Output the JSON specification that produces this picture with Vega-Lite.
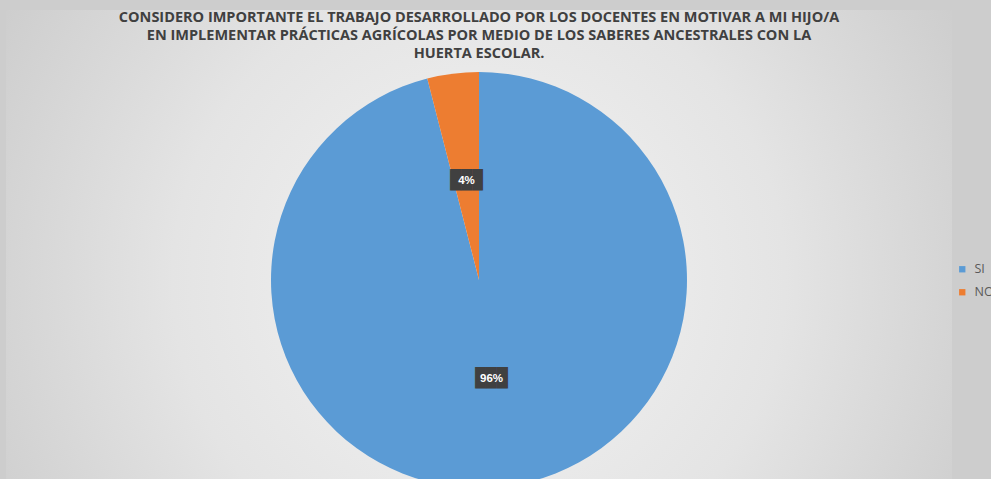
{
  "$schema": "https://vega.github.io/schema/vega-lite/v6.json",
  "width": 946,
  "height": 540,
  "autosize": {"type": "none"},
  "padding": {"left": 6, "top": 10, "right": 39, "bottom": 0},
  "background": "#cdcdcd",
  "config": {"view": {"stroke": null}},
  "title": {
    "text": [
      "CONSIDERO IMPORTANTE EL TRABAJO DESARROLLADO POR LOS DOCENTES EN MOTIVAR A MI HIJO/A",
      "EN IMPLEMENTAR PRÁCTICAS AGRÍCOLAS POR MEDIO DE LOS SABERES ANCESTRALES CON LA",
      "HUERTA ESCOLAR."
    ],
    "anchor": "middle",
    "offset": -51,
    "font": "Open Sans",
    "fontSize": 14.5,
    "fontWeight": "bold",
    "color": "#404040",
    "lineHeight": 18
  },
  "data": {
    "values": [
      {"respuesta": "SI", "porcentaje": 0.96},
      {"respuesta": "NO", "porcentaje": 0.04}
    ]
  },
  "layer": [
    {
      "data": {"values": [{}]},
      "mark": {
        "type": "rect",
        "color": {
          "gradient": "radial",
          "x1": 0.5, "y1": 0.5, "x2": 0.5, "y2": 0.5,
          "r1": 0, "r2": 0.72,
          "stops": [
            {"offset": 0, "color": "#f4f4f4"},
            {"offset": 0.45, "color": "#e4e4e4"},
            {"offset": 1, "color": "#c1c1c1"}
          ]
        }
      },
      "encoding": {}
    },
    {
      "mark": {"type": "arc", "outerRadius": 208},
      "encoding": {
        "theta": {"field": "porcentaje", "type": "quantitative", "stack": true},
        "order": {"field": "porcentaje", "sort": "descending"},
        "color": {
          "field": "respuesta",
          "type": "nominal",
          "sort": ["SI", "NO"],
          "scale": {"domain": ["SI", "NO"], "range": ["#5b9bd5", "#ed7d31"]},
          "legend": {
            "title": null,
            "orient": "none",
            "legendX": 950,
            "legendY": 253,
            "symbolType": "square",
            "symbolSize": 40,
            "symbolStrokeWidth": 0,
            "labelFontSize": 12.5,
            "labelColor": "#595959",
            "labelFont": "Open Sans",
            "labelOffset": 6,
            "rowPadding": 10
          }
        }
      }
    },
    {
      "mark": {"type": "text", "radius": 100, "font": "DejaVu Sans Mono", "fontSize": 18, "color": "#404040", "baseline": "middle"},
      "encoding": {
        "theta": {"field": "porcentaje", "type": "quantitative", "stack": true},
        "order": {"field": "porcentaje", "sort": "descending"},
        "text": {"value": "███"}
      }
    },
    {
      "mark": {"type": "text", "radius": 100, "font": "Liberation Sans", "fontSize": 11.5, "fontWeight": "bold", "color": "#ffffff", "baseline": "middle"},
      "encoding": {
        "theta": {"field": "porcentaje", "type": "quantitative", "stack": true},
        "order": {"field": "porcentaje", "sort": "descending"},
        "text": {"field": "porcentaje", "type": "quantitative", "format": ".0%"}
      }
    }
  ]
}
